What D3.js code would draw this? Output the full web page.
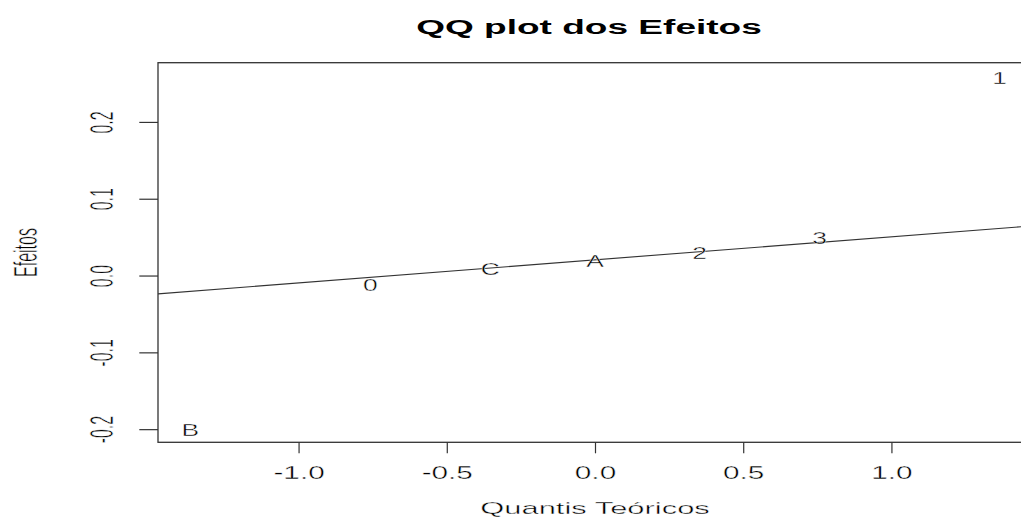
<!DOCTYPE html>
<html>
<head>
<meta charset="utf-8">
<script src="https://cdn.jsdelivr.net/npm/d3@7/dist/d3.min.js"></script>
<style>
  html, body { margin: 0; padding: 0; background: #fff; }
  text { font-family: "Liberation Sans", Arial, sans-serif; fill: #000; }
  text.thin { stroke: #fff; stroke-width: 0.35; paint-order: fill; }
</style>
</head>
<body>
<svg id="chart" width="1021" height="518"></svg>
<script>
// ---- data ----
const theoreticalQuantiles = [-1.365, -0.758, -0.353, 0, 0.353, 0.758, 1.365];
const effects = [-0.1988, -0.0101, 0.0105, 0.0203, 0.0306, 0.0508, 0.2588];
const pointLabels = ["B", "0", "C", "A", "2", "3", "1"];
const xTicks = [-1.0, -0.5, 0.0, 0.5, 1.0];
const xTickLabels = ["-1.0", "-0.5", "0.0", "0.5", "1.0"];
const yTicks = [-0.2, -0.1, 0.0, 0.1, 0.2];
const yTickLabels = ["-0.2", "-0.1", "0.0", "0.1", "0.2"];
const normalQuartiles = [-0.6745, 0.6745];

const title = "QQ plot dos Efeitos";
const xTitle = "Quantis Teóricos";
const yTitle = "Efeitos";

// ---- layout ----
const plot = { left: 158, right: 1032, top: 62.7, bottom: 442.3 };
const svg = d3.select("#chart");

function padded(ext) {
  const d = ext[1] - ext[0];
  return [ext[0] - 0.04 * d, ext[1] + 0.04 * d];
}
const x = d3.scaleLinear().domain(padded(d3.extent(theoreticalQuantiles))).range([plot.left, plot.right]);
const y = d3.scaleLinear().domain(padded(d3.extent(effects))).range([plot.bottom, plot.top]);

// clip
svg.append("defs").append("clipPath").attr("id", "clip")
  .append("rect")
  .attr("x", plot.left).attr("y", plot.top)
  .attr("width", plot.right - plot.left).attr("height", plot.bottom - plot.top);

// qq line through quartiles
const sorted = effects.slice().sort(d3.ascending);
const yq = [d3.quantile(sorted, 0.25), d3.quantile(sorted, 0.75)];
const slope = (yq[1] - yq[0]) / (normalQuartiles[1] - normalQuartiles[0]);
const intercept = yq[0] - slope * normalQuartiles[0];
const xd = x.domain();
svg.append("line")
  .attr("clip-path", "url(#clip)")
  .attr("x1", x(xd[0])).attr("y1", y(intercept + slope * xd[0]))
  .attr("x2", x(xd[1])).attr("y2", y(intercept + slope * xd[1]))
  .attr("stroke", "#333").attr("stroke-width", 1.1);

// frame
svg.append("rect")
  .attr("x", plot.left).attr("y", plot.top)
  .attr("width", plot.right - plot.left).attr("height", plot.bottom - plot.top)
  .attr("fill", "none").attr("stroke", "#333").attr("stroke-width", 1.3);

// point labels
const ptFont = 16.5, ptSX = 1.6;
svg.append("g").selectAll("text")
  .data(theoreticalQuantiles.map((q, i) => ({ q, v: effects[i], lab: pointLabels[i] })))
  .join("text")
  .attr("class", "thin")
  .attr("text-anchor", "middle")
  .attr("font-size", ptFont)
  .attr("transform", d => `translate(${x(d.q)},${y(d.v) + 1.5 + 0.358 * ptFont}) scale(${ptSX},1)`)
  .text(d => d.lab);

// x axis
const xAxisG = svg.append("g").attr("transform", `translate(0,${plot.bottom})`)
  .call(d3.axisBottom(x).tickValues(xTicks).tickSize(11).tickSizeOuter(0)
    .tickFormat((d, i) => xTickLabels[i]));
xAxisG.select(".domain").remove();
xAxisG.selectAll(".tick line").attr("stroke", "#333").attr("stroke-width", 1.2);
xAxisG.selectAll(".tick text")
  .attr("class", "thin")
  .attr("y", null).attr("dy", null)
  .attr("font-size", 17.5)
  .attr("fill", "#000")
  .attr("text-anchor", "middle")
  .attr("transform", `translate(0,${479.3 - plot.bottom}) scale(1.7,1)`);

// y axis
const yAxisG = svg.append("g").attr("transform", `translate(${plot.left},0)`)
  .call(d3.axisLeft(y).tickValues(yTicks).tickSize(18.7).tickSizeOuter(0)
    .tickFormat((d, i) => yTickLabels[i]));
yAxisG.select(".domain").remove();
yAxisG.selectAll(".tick line").attr("stroke", "#333").attr("stroke-width", 1.2);
yAxisG.selectAll(".tick text")
  .attr("class", "thin")
  .attr("x", null).attr("dy", null)
  .attr("font-size", 16)
  .attr("fill", "#000")
  .attr("text-anchor", "middle")
  .attr("transform", `translate(${113.3 - plot.left},0) rotate(-90) scale(1,2.09)`);
svg.selectAll(".tick text").attr("font-family", "Liberation Sans, Arial, sans-serif");

// titles
svg.append("text")
  .attr("text-anchor", "middle")
  .attr("font-size", 19.5).attr("font-weight", "bold")
  .attr("transform", `translate(589,33.5) scale(1.9,1)`)
  .text(title);

svg.append("text")
  .attr("class", "thin")
  .attr("text-anchor", "middle")
  .attr("font-size", 16.8)
  .attr("transform", `translate(595,514) scale(1.84,1)`)
  .text(xTitle);

svg.append("text")
  .attr("class", "thin")
  .attr("text-anchor", "middle")
  .attr("font-size", 16)
  .attr("transform", `translate(37,252.5) rotate(-90) scale(1,2.09)`)
  .text(yTitle);
</script>
</body>
</html>
